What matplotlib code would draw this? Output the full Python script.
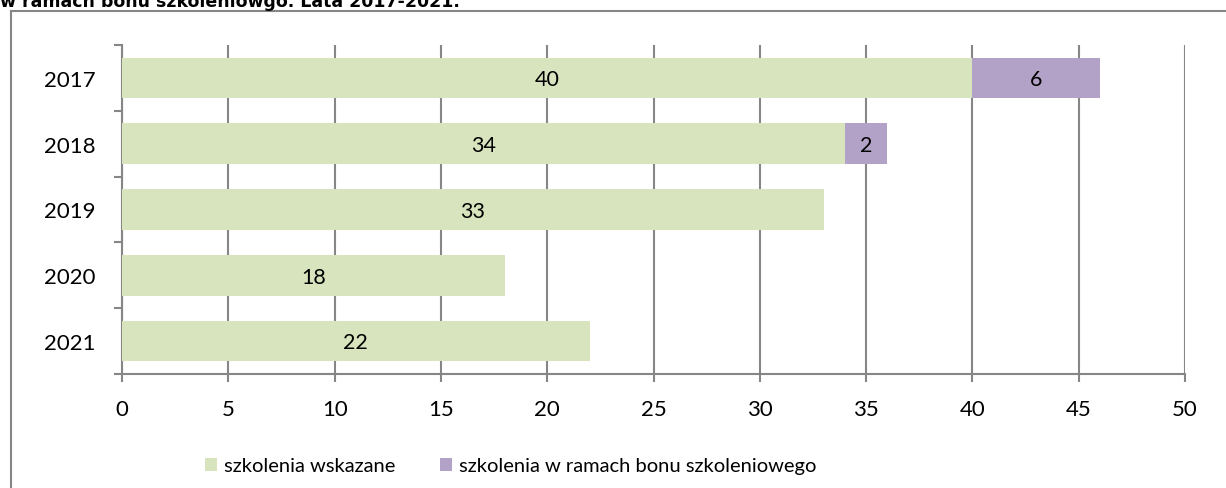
import matplotlib
matplotlib.use("Agg")
import matplotlib.pyplot as plt
from matplotlib.lines import Line2D
from matplotlib.patches import Patch
import numpy as np

years = ["2017", "2018", "2019", "2020", "2021"]
wskazane = [40, 34, 33, 18, 22]
bon = [6, 2, 0, 0, 0]
series_names = ["szkolenia wskazane", "szkolenia w ramach bonu szkoleniowego"]
title = "w ramach bonu szkoleniowgo. Lata 2017-2021."

green = "#D7E4BD"
purple = "#B3A2C7"
grey = "#868686"

W, H = 1226, 489
fig = plt.figure(figsize=(W / 100, H / 100), dpi=100)
plt.rcParams["font.family"] = ["Lato", "DejaVu Sans"]

# outer chart frame (partially cropped)
fig.add_artist(Line2D([10.5 / W, 10.5 / W], [0, 1 - 12 / H], transform=fig.transFigure,
                      color=grey, lw=1.5))
fig.add_artist(Line2D([10.5 / W, 1], [1 - 12 / H, 1 - 12 / H], transform=fig.transFigure,
                      color=grey, lw=1.5))
fig.text(0, 1 - 7 / H, title, fontsize=12.5, fontweight="bold", family="DejaVu Sans",
         va="baseline", ha="left")

ax = fig.add_axes([122 / W, 1 - 375 / H, (1185 - 122) / W, (375 - 46) / H])
y = np.arange(len(years))
h = 0.62
ax.barh(y, wskazane, height=h, color=green, lw=0, zorder=3)
bon_idx = [i for i, v in enumerate(bon) if v > 0]
ax.barh([y[i] for i in bon_idx], [bon[i] for i in bon_idx],
        left=[wskazane[i] for i in bon_idx], height=h, color=purple, lw=0, zorder=3)

for i in range(len(years)):
    ax.text(wskazane[i] / 2, y[i] + 0.02, str(wskazane[i]), ha="center", va="center",
            fontsize=15.5, zorder=4)
    if bon[i] > 0:
        ax.text(wskazane[i] + bon[i] / 2, y[i] + 0.02, str(bon[i]), ha="center",
                va="center", fontsize=15.5, zorder=4)

ax.set_xlim(0, 50)
ax.set_ylim(len(years) - 0.5, -0.5)
ax.set_xticks(np.arange(0, 51, 5))
ax.set_yticks(y)
ax.set_yticklabels(years)
ax.set_yticks(np.arange(-0.5, len(years)), minor=True)
ax.tick_params(axis="y", which="major", length=0, labelsize=16, pad=19)
ax.tick_params(axis="y", which="minor", length=6, color=grey, width=1.5)
ax.tick_params(axis="x", length=6, color=grey, width=1.5, labelsize=16, pad=12)
ax.grid(axis="x", color=grey, lw=1.5, zorder=0)
for s in ["top", "right"]:
    ax.spines[s].set_visible(False)
for s in ["left", "bottom"]:
    ax.spines[s].set_color(grey)
    ax.spines[s].set_linewidth(1.5)

handles = [Patch(facecolor=green), Patch(facecolor=purple)]
fig.legend(handles, series_names, loc="center", bbox_to_anchor=(511 / W, 1 - 467 / H),
           ncol=2, frameon=False, fontsize=14.5, handlelength=0.6, handleheight=0.6,
           handletextpad=0.35, columnspacing=2.2, borderpad=0, borderaxespad=0)

fig.savefig("out.png", dpi=100)
